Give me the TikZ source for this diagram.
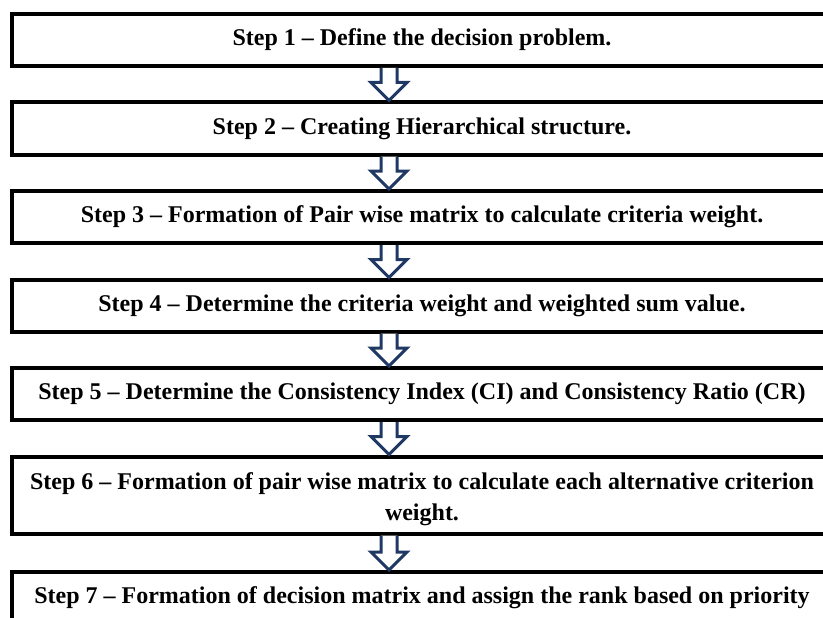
\documentclass[tikz,border=0pt]{standalone}
\usepackage{fontspec}
\setmainfont{Liberation Serif}
\usetikzlibrary{positioning,calc}
\definecolor{arrownavy}{RGB}{31,56,100}
\tikzset{
  stepbox/.style={rectangle, draw, line width=4pt, minimum width=820pt, minimum height=52pt,
    inner sep=0pt, align=center, font=\fontsize{24}{31}\selectfont\bfseries},
  hollowarrow/.style={draw=arrownavy, fill=white, line width=3pt, line join=miter}
}
% hollow block arrow from the bottom of one box to the top of the next
\newcommand{\blockdown}[2]{%
  \path[hollowarrow] let \p1=($(#1.south)+(-33,0)$), \p2=($(#2.north)+(-33,0)$) in
    (\x1-8pt,\y1) -- (\x1-8pt,\y2+18pt) -- (\x1-18pt,\y2+18pt) -- (\x2,\y2)
    -- (\x1+18pt,\y2+18pt) -- (\x1+8pt,\y2+18pt) -- (\x1+8pt,\y1);}
\begin{document}
\begin{tikzpicture}[x=1pt, y=-1pt, node distance=32.5pt]
  \useasboundingbox (0,0) rectangle (823,618);
  \clip (0,0) rectangle (823,618);
  % Nodes
  \node (step1) [stepbox] at (422, 40) {Step 1 -- Define the decision problem.};
  \node (step2) [stepbox, below=of step1] {Step 2 -- Creating Hierarchical structure.};
  \node (step3) [stepbox, below=of step2] {Step 3 -- Formation of Pair wise matrix to calculate criteria weight.};
  \node (step4) [stepbox, below=of step3] {Step 4 -- Determine the criteria weight and weighted sum value.};
  \node (step5) [stepbox, below=of step4] {Step 5 -- Determine the Consistency Index (CI) and Consistency Ratio (CR)};
  \node (step6) [stepbox, minimum height=77pt, below=of step5] {\rule{0pt}{25pt}Step 6 -- Formation of pair wise matrix to calculate each alternative criterion\\ weight.};
  \node (step7) [stepbox, below=of step6, yshift=-2pt] {Step 7 -- Formation of decision matrix and assign the rank based on priority};
  % Arrows
  \blockdown{step1}{step2}
  \blockdown{step2}{step3}
  \blockdown{step3}{step4}
  \blockdown{step4}{step5}
  \blockdown{step5}{step6}
  \blockdown{step6}{step7}
\end{tikzpicture}
\end{document}
